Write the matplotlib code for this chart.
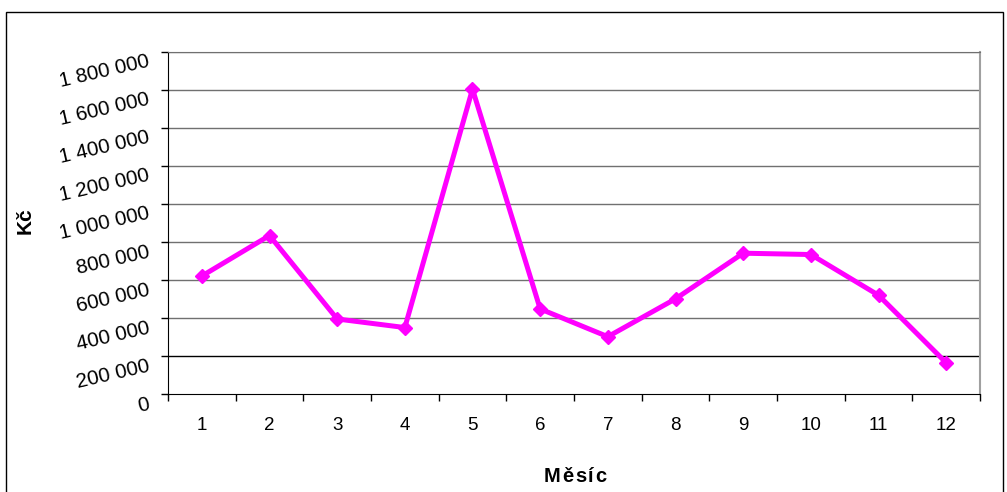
import matplotlib
matplotlib.use("Agg")
import matplotlib.pyplot as plt
from matplotlib.patches import Rectangle

months = list(range(1, 13))
values = [622000, 835000, 396000, 351000, 1605000, 449000,
          303000, 502000, 742000, 735000, 521000, 166000]
yticks = [0, 200000, 400000, 600000, 800000, 1000000, 1200000, 1400000, 1600000, 1800000]
ytick_labels = ["0", "200 000", "400 000", "600 000", "800 000", "1 000 000",
                "1 200 000", "1 400 000", "1 600 000", "1 800 000"]
x_title = "Měsíc"
y_title = "Kč"

plt.rcParams['font.family'] = ['Liberation Sans', 'DejaVu Sans']

fig = plt.figure(figsize=(10.07, 4.92), dpi=100)
fig.patches.append(Rectangle((6/1007, -0.1), (1003-6)/1007, 1.1 - 12/492,
                             transform=fig.transFigure, fill=False,
                             edgecolor='black', linewidth=1.0))
ax = fig.add_axes([168/1007, 1 - 394.3/492, (980-168)/1007, (394.3-52)/492])

ax.plot(months, values, color='#FF00FF', linewidth=3.6, marker='D',
        markersize=7.5, markerfacecolor='#FF00FF', markeredgecolor='#FF00FF',
        zorder=3)

ax.set_xlim(0.5, 12.5)
ax.set_ylim(0, 1800000)
ax.set_yticks(yticks)
ax.set_yticklabels(ytick_labels, rotation=13, fontsize=14.8, ha='right', va='top',
                   rotation_mode='anchor')
ax.set_xticks(months)
ax.set_xticklabels([str(m) for m in months], fontsize=13.5)
ax.set_xticks([m + 0.5 for m in range(0, 13)], minor=True)
ax.tick_params(axis='x', which='major', length=0, pad=16)
ax.tick_params(axis='x', which='minor', length=5, direction='out', width=1)
ax.tick_params(axis='y', length=5, direction='out', width=1, pad=10)

for v in yticks[1:]:
    ax.axhline(v, color='black' if v == 200000 else '#707070', linewidth=1.0, zorder=1)

ax.spines['top'].set_color('#707070')
ax.spines['right'].set_color('#a0a0a0')
ax.spines['right'].set_linewidth(1.5)
ax.spines['left'].set_color('black')
ax.spines['bottom'].set_color('black')

fig.text(25/1007, 1 - 221/492, y_title, rotation=90, fontsize=15, fontweight='bold',
         ha='center', va='center')

# letter-spaced x title
renderer = fig.canvas.get_renderer()
spacing = 1.8  # px between letters
widths = []
for ch in x_title:
    t = fig.text(0, 0, ch, fontsize=14.5, fontweight='bold')
    widths.append(t.get_window_extent(renderer).width)
    t.remove()
total = sum(widths) + spacing * (len(x_title) - 1)
xpos = 575 - total / 2
for ch, w in zip(x_title, widths):
    fig.text(xpos / 1007, 1 - 476/492, ch, fontsize=14.5, fontweight='bold',
             ha='left', va='center')
    xpos += w + spacing

fig.savefig("out.png", dpi=100)
